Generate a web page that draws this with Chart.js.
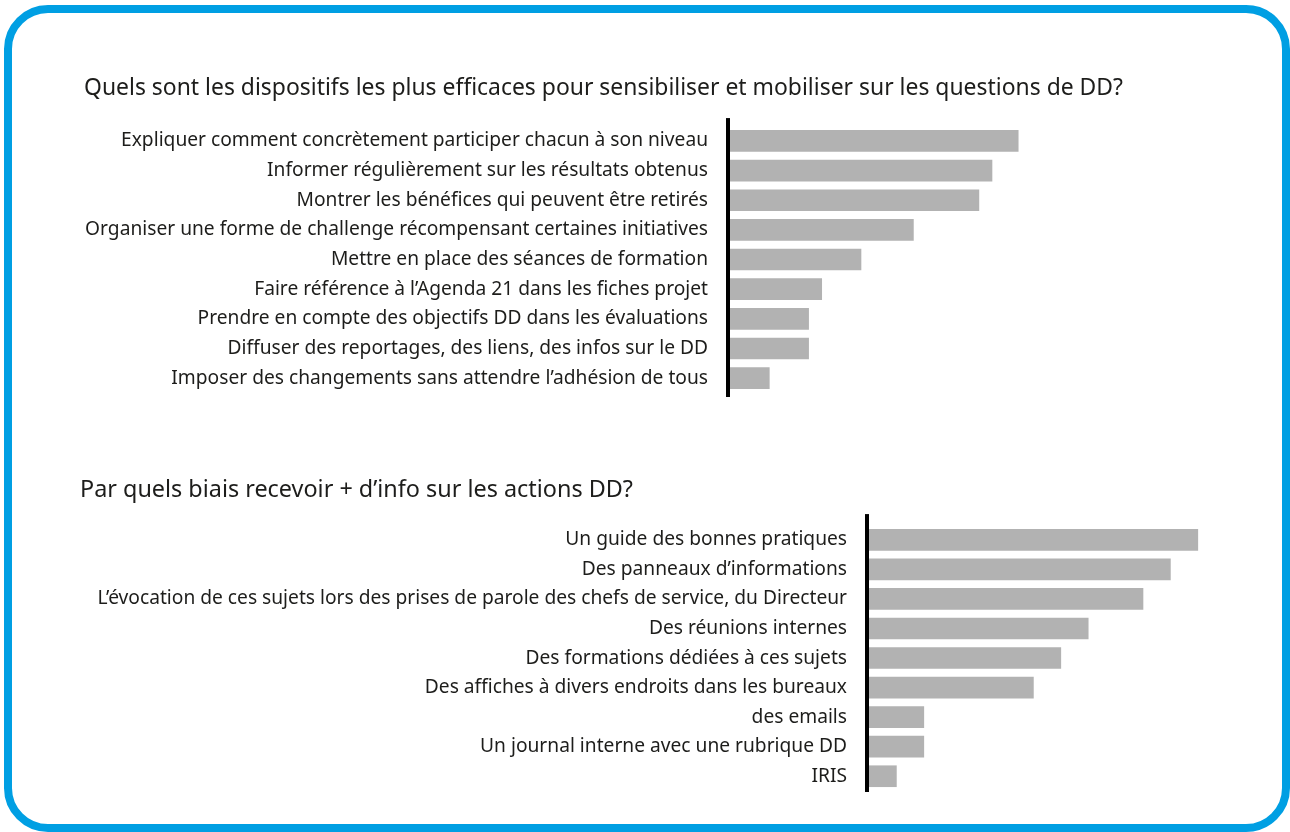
<!DOCTYPE html>
<html>
<head>
<meta charset="utf-8">
<script src="https://cdn.jsdelivr.net/npm/chart.js@4.4.1/dist/chart.umd.min.js"></script>
<style>
  html, body { margin: 0; padding: 0; background: #fff; }
  body { width: 1290px; height: 832px; position: relative; overflow: hidden; }
  #cadre {
    position: absolute; left: 4px; top: 5px; width: 1286px; height: 827px;
    box-sizing: border-box; border: 8px solid #009fe3; border-radius: 44px;
  }
  canvas { position: absolute; left: 0; }
  #dispositifs__grafico { top: 0; }
  #biais__grafico { top: 420px; }
</style>
</head>
<body>
<div id="cadre"></div>
<canvas id="dispositifs__grafico" width="1290" height="427"></canvas>
<canvas id="biais__grafico" width="1290" height="412"></canvas>
<script>
// Question 1
const titre1 = 'Quels sont les dispositifs les plus efficaces pour sensibiliser et mobiliser sur les questions de DD?'
const dispositifs = [
    'Expliquer comment concrètement participer chacun à son niveau',
    'Informer régulièrement sur les résultats obtenus',
    'Montrer les bénéfices qui peuvent être retirés',
    'Organiser une forme de challenge récompensant certaines initiatives',
    'Mettre en place des séances de formation',
    'Faire référence à l’Agenda 21 dans les fiches projet',
    'Prendre en compte des objectifs DD dans les évaluations',
    'Diffuser des reportages, des liens, des infos sur le DD',
    'Imposer des changements sans attendre l’adhésion de tous'
]
const reponsesDispositifs = [22, 20, 19, 14, 10, 7, 6, 6, 3]

// Question 2
const titre2 = 'Par quels biais recevoir + d’info sur les actions DD?'
const biais = [
    'Un guide des bonnes pratiques',
    'Des panneaux d’informations',
    'L’évocation de ces sujets lors des prises de parole des chefs de service, du Directeur',
    'Des réunions internes',
    'Des formations dédiées à ces sujets',
    'Des affiches à divers endroits dans les bureaux',
    'des emails',
    'Un journal interne avec une rubrique DD',
    'IRIS'
]
const reponsesBiais = [12, 11, 10, 8, 7, 6, 2, 2, 1]

const police = 'Noto Sans'
const gris = '#b2b2b2'
const texte = '#1d1d1b'

// vertical black axis line, a bit longer than the plot area
const ligneAxe = {
    id: 'ligneAxe',
    afterDraw(chart, args, opts) {
        const ctx = chart.ctx
        const a = chart.chartArea
        ctx.save()
        ctx.fillStyle = '#000'
        ctx.fillRect(a.left - 4, a.top - opts.haut, 4, a.bottom - a.top + opts.haut + opts.bas)
        ctx.restore()
    }
}

const faireGraphique = (id, titre, labels, valeurs, cfg) => {
    return new Chart(document.getElementById(id).getContext('2d'), {
        type: 'bar',
        data: {
            labels: labels,
            datasets: [{
                data: valeurs,
                backgroundColor: gris,
                borderWidth: 0,
                barThickness: 21
            }]
        },
        options: {
            indexAxis: 'y',
            responsive: false,
            animation: false,
            layout: { padding: cfg.padding },
            scales: {
                x: { display: false, min: 0, max: cfg.max },
                y: {
                    grid: { display: false, drawTicks: false },
                    border: { display: false },
                    ticks: {
                        color: texte,
                        padding: 22,
                        font: { family: police, size: 19.2 }
                    },
                    afterFit: (scale) => { scale.width = cfg.largeurAxe }
                }
            },
            plugins: {
                legend: { display: false },
                tooltip: { enabled: false },
                title: {
                    display: true,
                    text: titre,
                    align: 'start',
                    color: texte,
                    font: { family: police, size: 23.4, weight: 'normal' },
                    padding: { top: 0, bottom: cfg.titreBas }
                },
                ligneAxe: cfg.axe
            }
        },
        plugins: [ligneAxe]
    })
}

faireGraphique('dispositifs__grafico', titre1, dispositifs, reponsesDispositifs, {
    padding: { top: 74, left: 84, right: 167, bottom: 34 },
    titreBas: 24,
    max: 30,
    largeurAxe: 646,
    axe: { haut: 8, bas: 4 }
})

faireGraphique('biais__grafico', titre2, biais, reponsesBiais, {
    padding: { top: 56, left: 80, right: 10, bottom: 41 },
    titreBas: 21,
    max: 15,
    largeurAxe: 789,
    axe: { haut: 11, bas: 1 }
})
</script>
</body>
</html>
